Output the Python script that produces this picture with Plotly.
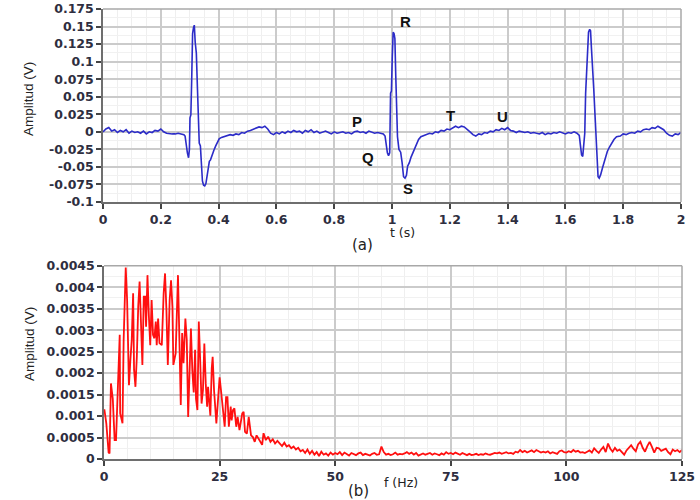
import numpy as np
import plotly.graph_objects as go

# ---------------- ECG signal (values in mV, converted to V) ----------------
base1_t0 = 0.00
base1_v = [0, 4, 6, 1, 3, -1, 2, 0, 3, -2,
           1, -1, 0, -2, 1, -3, 0, -1, 2, 1,
           4, 0, -2, -3, -3, -3, -2, -3, -4]
qrs1_t = [0.284, 0.288, 0.292, 0.296, 0.299, 0.301, 0.304, 0.307, 0.310, 0.313,
          0.316, 0.319, 0.323, 0.327, 0.330, 0.333, 0.337, 0.340, 0.344, 0.348,
          0.352, 0.356, 0.360, 0.364, 0.368, 0.372, 0.378, 0.384, 0.390, 0.396,
          0.402]
qrs1_v = [-6, -20, -30, -37, -25, 20, 24, 76, 140, 148,
          152, 128, 112, 60, 24, -16, -20, -47, -70, -76,
          -77, -74, -63, -56, -42, -40, -32, -26, -20, -15,
          -10]
base2_t0 = 0.41
base2_v = [-8, -7, -6, -4, -5, -3, -4, -1, -2, 1,
           2, 4, 5, 7, 6, 8, 4, -2, -4, -1,
           -3, 0, -2, 1, -1, 2, 0, 1, -2, 2,
           0, 3, -1, 1, -2, 0, 1, -1, -3, 0,
           -2, -1, 0, -2, -1, -3, 0, 1, -1, 0,
           -2, 1, -1, -2, -1, -2, -3]
qrs2_t = [0.976, 0.980, 0.984, 0.988, 0.992, 0.995, 0.998, 1.001, 1.004, 1.007,
          1.010, 1.013, 1.016, 1.019, 1.024, 1.030, 1.035, 1.040, 1.045, 1.050,
          1.054, 1.060, 1.066, 1.072, 1.078, 1.085, 1.092, 1.100]
qrs2_v = [-6, -22, -30, -34, -30, 55, 58, 107, 142, 140,
          133, 80, 40, -7, -25, -29, -44, -64, -66, -62,
          -49, -44, -36, -30, -24, -16, -11, -7]
base3_t0 = 1.11
base3_v = [-5, -4, -2, -3, 0, -1, 2, 1, 4, 3,
           6, 8, 6, 8, 7, 4, 0, -4, -6, -3,
           -4, -1, -2, 1, 0, 3, 2, 5, 3, 6,
           2, 1, -1, 1, 0, -1, 0, -2, -1, -2,
           -3, -1, -4, -2, -3, -1, -2, 0, -1, -3,
           -1, -2, 0, -2]
qrs3_t = [1.648, 1.652, 1.656, 1.660, 1.664, 1.667, 1.670, 1.674, 1.677, 1.680,
          1.684, 1.687, 1.690, 1.694, 1.698, 1.702, 1.706, 1.709, 1.713, 1.717,
          1.722, 1.728, 1.734, 1.738, 1.745, 1.752, 1.760, 1.768, 1.777]
qrs3_v = [-5, -20, -33, -35, -21, -2, 55, 95, 120, 142,
          146, 144, 120, 95, 62, 28, -12, -49, -64, -66,
          -61, -52, -44, -36, -28, -22, -16, -11, -7]
base4_t0 = 1.79
base4_v = [-6, -3, -4, -2, -1, -2, 1, 0, 3, 4,
           3, 6, 5, 8, 6, 3, -2, -5, -6, -3,
           -4, -1]

# ---------------- Spectrum (values in 1e-4 V) ----------------
spec_low_f = [0, 0.1, 0.5, 0.7, 1.0, 1.2, 1.5, 1.9, 2.3, 2.6,
              2.8, 3.1, 3.4, 3.5, 4.0, 4.25, 4.7, 5.0, 5.3, 5.4,
              5.7, 6.0, 6.3, 6.5, 6.8, 7.1, 7.4, 7.7, 8.0, 8.3,
              8.6, 8.9, 9.1, 9.4, 9.7, 10.0, 10.3, 10.6, 10.9, 11.2,
              11.4, 11.7, 12.0, 12.5, 12.9, 13.2, 13.5, 13.8, 14.2, 14.5,
              14.8, 15.0, 15.5, 15.8, 16.0, 16.3, 16.6, 16.9, 17.2, 17.6,
              17.9, 18.2, 18.5, 18.8, 19.1, 19.4, 19.7, 19.9, 20.2, 20.5,
              20.8, 21.1, 21.4, 21.7, 22.0, 22.3, 22.5, 23.0, 23.3, 23.5,
              23.8, 24.3, 24.7, 25.0, 25.3, 25.7, 26.1, 26.4, 26.7, 27.0,
              27.4, 27.6, 27.9, 28.2, 28.6, 28.9, 29.3, 29.9, 30.2, 30.5,
              30.9, 31.3, 31.8, 32.2, 32.6, 33.0, 33.6, 34.2, 34.5]
spec_low_v = [11.4, 11.4, 8.3, 4.4, 1.5, 1.3, 17.6, 14, 4.4, 4.4,
              10.6, 22.7, 28.9, 10.6, 8.3, 27.7, 44.6, 37, 23.8, 17.2,
              23, 27.7, 38.6, 20.8, 16.8, 23.8, 35.5, 41.3, 31.6, 21.9,
              37.8, 37.8, 30.8, 42.8, 33.4, 26.5, 37, 28.9, 28.1, 32,
              26.5, 32.7, 27, 26.5, 38.6, 43.2, 34.7, 21.9, 37, 41.6,
              35.3, 21.9, 24.6, 34.7, 42.8, 28.1, 12.6, 29.3, 22.3, 32.7,
              27.7, 9.8, 18.4, 30.4, 20.6, 15.5, 25.4, 14, 11.4, 32,
              23, 12.9, 16, 26.9, 17.6, 12.2, 16.8, 10.1, 21.1, 23.8,
              16, 8.3, 14.4, 19, 16, 12.2, 7.5, 14.4, 14.4, 7.5,
              12.2, 9, 11.4, 11.8, 7.5, 9.8, 6.7, 10.6, 11, 6.3,
              5.9, 9.8, 5.5, 5.1, 4, 5.5, 4.4, 3.3, 6]
spec_tail_f0 = 35.0
spec_tail_df = 0.5
spec_tail_v = [4.4, 5.2, 4.0, 4.6, 3.6, 4.2, 3.6, 3.0, 3.8, 2.9,
               3.2, 2.5, 2.9, 2.2, 2.6, 1.8, 2.1, 1.4, 2.2, 1.2,
               1.9, 1.0, 1.6, 0.7, 1.7, 1.0, 1.3, 0.8, 1.5, 1.0,
               1.4, 1.1, 1.6, 0.9, 1.5, 1.2, 0.8, 1.4, 1.1, 0.9,
               1.3, 1.5, 0.9, 1.2, 1.0, 0.8, 1.2, 1.4, 1.0, 1.1,
               2.9, 1.6, 1.0, 1.2, 0.9, 1.1, 1.5, 1.0, 1.2, 1.1,
               1.3, 1.6, 1.2, 1.5, 1.0, 1.4, 0.8, 1.1, 1.3, 1.0,
               1.2, 1.4, 1.0, 1.3, 1.1, 0.9, 1.3, 1.0, 1.6, 1.2,
               1.4, 1.1, 1.5, 1.2, 1.0, 1.4, 1.1, 0.9, 1.2, 0.9,
               1.0, 1.2, 0.9, 1.1, 1.0, 1.3, 1.1, 1.0, 1.2, 1.4,
               1.3, 1.5, 1.2, 1.4, 1.6, 1.3, 1.4, 1.2, 1.7, 1.5,
               2.1, 1.6, 1.9, 1.5, 1.7, 2.0, 1.6, 2.1, 1.8, 1.5,
               1.7, 1.5, 1.8, 1.3, 1.6, 1.4, 1.2, 1.8, 2.0, 1.6,
               1.5, 1.8, 1.6, 2.1, 1.7, 1.9, 1.5, 1.6, 1.4, 1.7,
               2.0, 1.5, 2.5, 1.9, 1.4, 2.2, 2.8, 1.6, 3.6, 2.4,
               1.7, 2.6, 1.9, 2.2, 1.5, 1.0, 2.0, 2.7, 3.2, 2.4,
               1.8, 3.4, 4.0, 2.6, 1.7, 3.0, 4.0, 2.8, 1.5, 2.6,
               2.5, 1.9, 2.1, 2.4, 1.6, 1.1, 2.2, 1.8, 2.1, 1.6,
               2.1]

# tick labels
top_xticks = [0, 0.2, 0.4, 0.6, 0.8, 1, 1.2, 1.4, 1.6, 1.8, 2]
top_xtext = ['0', '0.2', '0.4', '0.6', '0.8', '1', '1.2', '1.4', '1.6', '1.8', '2']
top_yticks = [-0.1, -0.075, -0.05, -0.025, 0, 0.025, 0.05, 0.075, 0.1, 0.125, 0.15, 0.175]
top_ytext = ['-0.1', '-0.075', '-0.05', '-0.025', '0', '0.025', '0.05', '0.075', '0.1',
             '0.125', '0.15', '0.175']
bot_xticks = [0, 25, 50, 75, 100, 125]
bot_xtext = ['0', '25', '50', '75', '100', '125']
bot_yticks = [0, 0.0005, 0.001, 0.0015, 0.002, 0.0025, 0.003, 0.0035, 0.004, 0.0045]
bot_ytext = ['0', '0.0005', '0.001', '0.0015', '0.002', '0.0025', '0.003', '0.0035',
             '0.004', '0.0045']

wave_labels = ['P', 'Q', 'R', 'S', 'T', 'U']
wave_t = [0.879, 0.917, 1.045, 1.055, 1.204, 1.384]
wave_v = [0.014, -0.037, 0.157, -0.081, 0.023, 0.022]

# ---------------- assemble ----------------
def seg(t0, vals):
    return [round(t0 + 0.01 * i, 4) for i in range(len(vals))]

ecg_t = (seg(base1_t0, base1_v) + qrs1_t + seg(base2_t0, base2_v) + qrs2_t +
         seg(base3_t0, base3_v) + qrs3_t + seg(base4_t0, base4_v))
ecg_v = [v * 1e-3 for v in (base1_v + qrs1_v + base2_v + qrs2_v + base3_v + qrs3_v + base4_v)]

tail_f = [spec_tail_f0 + spec_tail_df * i for i in range(len(spec_tail_v))]
spec_f = spec_low_f + tail_f
spec_v = [v * 1e-4 for v in (spec_low_v + spec_tail_v)]

W, H = 700, 500
fig = go.Figure()
fig.add_trace(go.Scatter(x=ecg_t, y=ecg_v, mode='lines', xaxis='x', yaxis='y',
                         line=dict(color='#2c2cc8', width=1.6), showlegend=False,
                         hoverinfo='skip'))
fig.add_trace(go.Scatter(x=spec_f, y=spec_v, mode='lines', xaxis='x2', yaxis='y2',
                         line=dict(color='#ff1010', width=1.8), showlegend=False,
                         hoverinfo='skip'))

tickfont = dict(family='DejaVu Sans', size=12.5, color='#2e2e40', weight='bold')
common = dict(showline=True, linecolor='#6e6e6e', linewidth=1.5, ticks='outside',
              ticklen=5, tickwidth=1.5, tickcolor='#444444', tickfont=tickfont,
              showgrid=True, gridcolor='#cbcbcb', gridwidth=2, zeroline=False,
              fixedrange=True, automargin=False)

xd = [103 / W, 681 / W]
xd2 = [104 / W, 682 / W]
yd1 = [1 - 202 / H, 1 - 9 / H]
yd2 = [1 - 459 / H, 1 - 265.7 / H]

fig.update_layout(
    width=W, height=H, margin=dict(l=0, r=0, t=0, b=0, autoexpand=False),
    paper_bgcolor='white', plot_bgcolor='white',
    xaxis=dict(domain=xd, range=[0, 2], anchor='y', tickvals=top_xticks, ticktext=top_xtext,
               minor=dict(dtick=0.05, showgrid=True, gridcolor='#efefef', gridwidth=1, ticks=''),
               **common),
    yaxis=dict(domain=yd1, range=[-0.1, 0.175], anchor='x', tickvals=top_yticks, ticktext=top_ytext,
               minor=dict(dtick=0.0125, showgrid=True, gridcolor='#f1f1f1', gridwidth=1, ticks=''),
               **common),
    xaxis2=dict(domain=xd2, range=[0, 125], anchor='y2', tickvals=bot_xticks, ticktext=bot_xtext,
                minor=dict(dtick=5, showgrid=True, gridcolor='#efefef', gridwidth=1, ticks=''),
                **common),
    yaxis2=dict(domain=yd2, range=[0, 0.0045], anchor='x2', tickvals=bot_yticks, ticktext=bot_ytext,
                minor=dict(dtick=0.00025, showgrid=True, gridcolor='#f1f1f1', gridwidth=1, ticks=''),
                **common),
)

# light frame on top/right
for xr, yr in (('x', 'y'), ('x2', 'y2')):
    fig.add_shape(type='line', xref=xr + ' domain', yref=yr + ' domain', x0=0, x1=1, y0=1, y1=1,
                  line=dict(color='#a8a8a8', width=1.5), layer='above')
    fig.add_shape(type='line', xref=xr + ' domain', yref=yr + ' domain', x0=1, x1=1, y0=0, y1=1,
                  line=dict(color='#a8a8a8', width=1.5), layer='above')

anns = []
for lab, t, v in zip(wave_labels, wave_t, wave_v):
    anns.append(dict(x=t, y=v, xref='x', yref='y', text=lab, showarrow=False,
                     font=dict(family='Liberation Sans', size=15, color='#111111', weight='bold'),
                     xanchor='center', yanchor='middle'))
titlefont = dict(family='Liberation Sans', size=13.5, color='#222222')
anns += [
    dict(x=29 / W, y=1 - 99 / H, xref='paper', yref='paper', text='Amplitud (V)', textangle=-90,
         showarrow=False, font=titlefont, xanchor='center', yanchor='middle'),
    dict(x=29 / W, y=1 - 344 / H, xref='paper', yref='paper', text='Amplitud (V)', textangle=-90,
         showarrow=False, font=titlefont, xanchor='center', yanchor='middle'),
    dict(x=402 / W, y=1 - 233 / H, xref='paper', yref='paper', text='t (s)', showarrow=False,
         font=dict(family='DejaVu Sans', size=12.5, color='#222222'), xanchor='center', yanchor='middle'),
    dict(x=362 / W, y=1 - 245 / H, xref='paper', yref='paper', text='(a)', showarrow=False,
         font=dict(family='DejaVu Sans', size=15, color='#222222'), xanchor='center', yanchor='middle'),
    dict(x=401 / W, y=1 - 482 / H, xref='paper', yref='paper', text='f (Hz)', showarrow=False,
         font=dict(family='DejaVu Sans', size=12.5, color='#222222'), xanchor='center', yanchor='middle'),
    dict(x=358 / W, y=1 - 490.5 / H, xref='paper', yref='paper', text='(b)', showarrow=False,
         font=dict(family='DejaVu Sans', size=15, color='#222222'), xanchor='center', yanchor='middle'),
]
fig.update_layout(annotations=anns)

fig.write_html('out.html')
